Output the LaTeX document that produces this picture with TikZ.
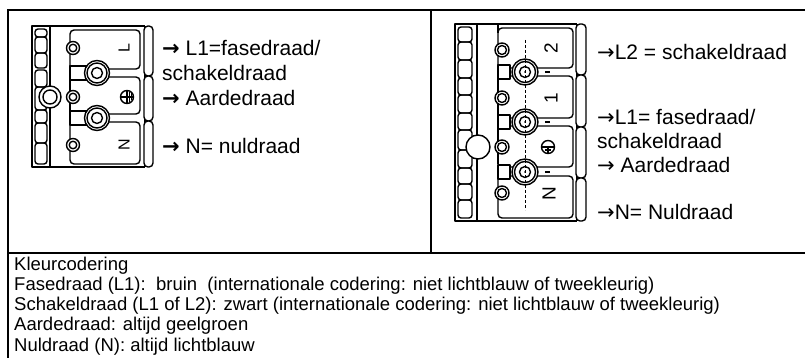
\documentclass[tikz,border=0pt]{standalone}
\usepackage{fontspec}
\setmainfont{Liberation Sans}
\newfontfamily\arrowfont{DejaVu Sans}
\begin{document}
\begin{tikzpicture}[x=1pt,y=-1pt,
  tbl/.style={line width=2pt},
  cl/.style={line width=1.4pt, line join=round},
  big/.style={font=\fontsize{21}{25}\selectfont, anchor=base west, inner sep=0pt},
  small/.style={font=\fontsize{18.5}{20}\selectfont, anchor=base west, inner sep=0pt},
  slotlbl/.style={font=\fontsize{16}{16}\selectfont, rotate=90, inner sep=0pt},
  slotlblr/.style={font=\fontsize{19}{19}\selectfont, rotate=90, inner sep=0pt},
  bump/.style={cl, rounded corners=4pt, fill=white},
  hole/.style={cl, fill=white},
]
\useasboundingbox (0,0) rectangle (805,358);
\fill[white] (0,0) rectangle (805,358);
% ---------- table ----------
\draw[tbl] (8,360) -- (8,10) -- (806,10);
\draw[tbl] (431,10) -- (431,253);
\draw[tbl] (8,253) -- (806,253);

% ---------- left connector ----------
\begin{scope}[cl]
  \draw (145,26) -- (32,26) -- (32,167) -- (145,167);
  \draw (50,26) -- (50,167);
  \draw (145,26) -- (145,167);
  \foreach \a/\b in {29/37,37/53,53/68,70/87,87/110,110/123,123/143,143/164}
    \draw[rounded corners=3pt] (35,\a) rectangle (47,\b);
  \foreach \a/\b in {26/76,76/121,121/167}
    \draw[bump] (144,\a) rectangle (153,\b);
  % slots
  \draw[rounded corners=4pt] (70,66) -- (70,30) -- (140,30) -- (140,69) -- (88,69);
  \draw[rounded corners=4pt] (88,77) -- (140,77) -- (140,114) -- (88,114);
  \draw (70,80) -- (70,111);
  \draw[rounded corners=4pt] (88,122) -- (140,122) -- (140,164) -- (70,164) -- (70,125);
  \draw (70,66) rectangle (88,80);
  \draw (70,111) rectangle (88,125);
  % screws
  \foreach \y in {73,118} {
    \draw[hole] (97,\y) circle (12.5);
    \draw (97,\y) circle (10);
    \draw (97,\y) circle (5.5);
  }
  % test holes
  \foreach \y in {48,97,145} {
    \draw[hole] (73,\y) circle (6.5);
    \draw (73,\y) circle (3.8);
  }
  % left big hole
  \draw[hole] (50,97) circle (11);
  \draw (50,97) circle (7);
  % earth symbol
  \draw (127,97) circle (6.5);
  \draw (120.5,97) -- (133.5,97) (127,90.5) -- (127,103.5);
  \draw (129.5,92) -- (129.5,102) (131.5,93.5) -- (131.5,100.5);
\end{scope}
\node[slotlbl] (lL) at (124,48) {L};
\node[slotlbl] (lN) at (124,145) {N};

% ---------- right connector ----------
\begin{scope}[cl]
  \draw (577,24) -- (455,24) -- (455,221) -- (577,221);
  \draw (477,24) -- (477,221);
  \draw (577,24) -- (577,221);
  \draw (498,24) -- (498,33);
  \foreach \a/\b in {27/42,42/60,60/78,78/95,95/113,113/130,130/150,150/168,168/184,184/200,200/218}
    \draw[rounded corners=3pt] (458,\a) rectangle (472,\b);
  \foreach \a/\b in {24/75,75/127,127/178,178/221}
    \draw[bump] (576,\a) rectangle (586,\b);
  % slots
  \draw[rounded corners=4pt] (498,65) -- (498,28) -- (573,28) -- (573,68) -- (510,68);
  \draw[rounded corners=4pt] (510,76) -- (573,76) -- (573,118) -- (510,118);
  \draw (498,79) -- (498,115);
  \draw[rounded corners=4pt] (510,126) -- (573,126) -- (573,167) -- (510,167);
  \draw (498,129) -- (498,164);
  \draw[rounded corners=4pt] (510,176) -- (573,176) -- (573,218) -- (498,218) -- (498,179);
  \foreach \y in {72,122,172}
    \draw (498,\y-7) rectangle (510,\y+7);
  % screws
  \foreach \y in {72,122,172} {
    \draw[hole] (525,\y) circle (13);
    \draw (525,\y) circle (10.5);
    \draw (525,\y) circle (5.5);
    \fill (525,\y) circle (1);
    \draw (545,\y) -- (550,\y);
  }
  \draw[line width=0.7pt, dash pattern=on 3pt off 2pt] (525,40) -- (525,210);
  % test holes
  \foreach \y in {50,98,147,193} {
    \draw[hole] (502,\y) circle (7);
    \draw (502,\y) circle (4.5);
  }
  \draw[hole] (478,147) circle (12);
  % earth symbol
  \draw (548,147) circle (6.5);
  \draw (541.5,147) -- (554.5,147) (548,147) -- (548,153.5);
  \draw (545,150) -- (551,150);
\end{scope}
\node[slotlblr] (r2) at (551,48) {2};
\node[slotlblr] (r1) at (551,98) {1};
\node[slotlblr] (rN) at (549,194) {N};

% ---------- labels ----------
\node[big] (a1) at (162,55.5) {{\arrowfont\bfseries →} L1=fasedraad/};
\node[big] (a2) at (162,80.5) {schakeldraad};
\node[big] (a3) at (162,105.5) {{\arrowfont\bfseries →} Aardedraad};
\node[big] (a4) at (162,154) {{\arrowfont\bfseries →} N= nuldraad};

\node[big] (b1) at (597,60) {{\arrowfont →}L2 = schakeldraad};
\node[big] (b2) at (597,124.5) {{\arrowfont →}L1= fasedraad/};
\node[big] (b3) at (597,149) {schakeldraad};
\node[big] (b4) at (597,172.5) {{\arrowfont →} Aardedraad};
\node[big] (b5) at (597,219) {{\arrowfont →}N= Nuldraad};

\node[small] (c1) at (14,270) {Kleurcodering};
\node[small] (c2) at (14,290) {Fasedraad (L1):\ \ bruin\ \ (internationale codering: niet lichtblauw of tweekleurig)};
\node[small] (c3) at (14,310) {Schakeldraad (L1 of L2): zwart (internationale codering: niet lichtblauw of tweekleurig)};
\node[small] (c4) at (14,330) {Aardedraad: altijd geelgroen};
\node[small] (c5) at (14,351) {Nuldraad (N): altijd lichtblauw};
\end{tikzpicture}
\end{document}
